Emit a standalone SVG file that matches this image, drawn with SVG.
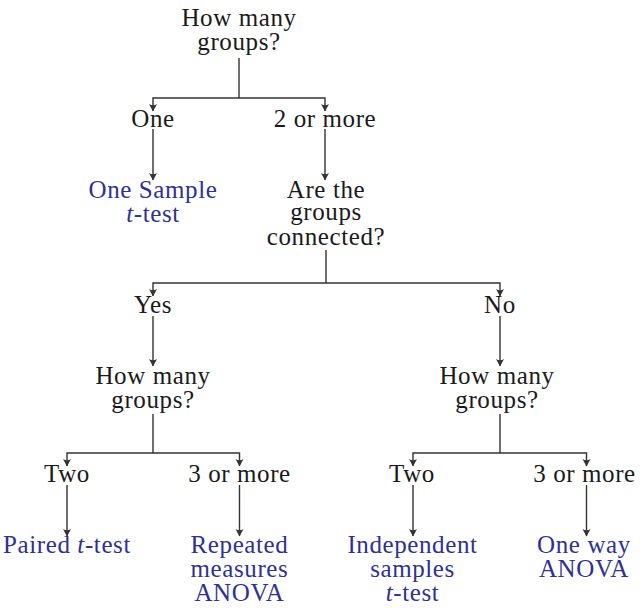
<svg xmlns="http://www.w3.org/2000/svg" width="642" height="608" viewBox="0 0 642 608">
<defs>
<style>
text{font-family:"Liberation Serif","Times New Roman",serif;font-size:25px;letter-spacing:0.6px;text-anchor:middle;fill:#1a1a1a}
.r{fill:#2e3192}
.it{font-style:italic}
.c{fill:none;stroke:#333;stroke-width:1.4}
.a{marker-end:url(#ah)}
</style>
<marker id="ah" markerUnits="userSpaceOnUse" viewBox="-8 -5 9 10" markerWidth="9" markerHeight="10" refX="0" refY="0" orient="auto">
<path d="M0.5,0 L-7,-4 Q-4.5,0 -7,4 Z" fill="#333"/>
</marker>
</defs>
<rect width="642" height="608" fill="#fff"/>
<g id="connectors">
<path class="c" d="M239,58 V98"/>
<path class="c a" d="M239,98 H153 V111"/>
<path class="c a" d="M239,98 H325 V111"/>
<path class="c a" d="M153,129 V180"/>
<path class="c a" d="M325,129 V180"/>
<path class="c" d="M326,250 V283"/>
<path class="c a" d="M326,283 H153 V296"/>
<path class="c a" d="M326,283 H500 V296"/>
<path class="c a" d="M153,316 V366"/>
<path class="c a" d="M500,316 V366"/>
<path class="c" d="M153,414 V453"/>
<path class="c a" d="M153,453 H67 V466"/>
<path class="c a" d="M153,453 H239.5 V466"/>
<path class="c" d="M500,414 V453"/>
<path class="c a" d="M500,453 H413 V466"/>
<path class="c a" d="M500,453 H586.5 V466"/>
<path class="c a" d="M67,485 V536"/>
<path class="c a" d="M239.5,485 V536"/>
<path class="c a" d="M413,485 V536"/>
<path class="c a" d="M586.5,485 V536"/>
</g>
<g id="root"><text x="239" y="26">How many</text><text x="239" y="50">groups?</text></g>
<g id="one"><text x="153" y="127">One</text></g>
<g id="twoormore"><text x="325" y="127">2 or more</text></g>
<g id="onesample"><text class="r" x="153" y="198">One Sample</text><text class="r" x="153" y="222"><tspan class="it">t</tspan>-test</text></g>
<g id="connected"><text x="326" y="198">Are the</text><text x="326" y="220">groups</text><text x="326" y="245">connected?</text></g>
<g id="yes"><text x="153" y="313">Yes</text></g>
<g id="no"><text x="500" y="313">No</text></g>
<g id="howmanyL"><text x="153" y="384">How many</text><text x="153" y="408">groups?</text></g>
<g id="howmanyR"><text x="497" y="384">How many</text><text x="497" y="408">groups?</text></g>
<g id="twoL"><text x="67" y="482">Two</text></g>
<g id="threeL"><text x="239.5" y="482">3 or more</text></g>
<g id="twoR"><text x="412" y="482">Two</text></g>
<g id="threeR"><text x="584.5" y="482">3 or more</text></g>
<g id="paired"><text class="r" x="67" y="553">Paired <tspan class="it">t</tspan>-test</text></g>
<g id="repeated"><text class="r" x="239.5" y="553">Repeated</text><text class="r" x="239.5" y="577">measures</text><text class="r" x="239.5" y="601">ANOVA</text></g>
<g id="independent"><text class="r" x="412.5" y="553">Independent</text><text class="r" x="412.5" y="577">samples</text><text class="r" x="412.5" y="601"><tspan class="it">t</tspan>-test</text></g>
<g id="oneway"><text class="r" x="584" y="553">One way</text><text class="r" x="584" y="577">ANOVA</text></g>
</svg>
